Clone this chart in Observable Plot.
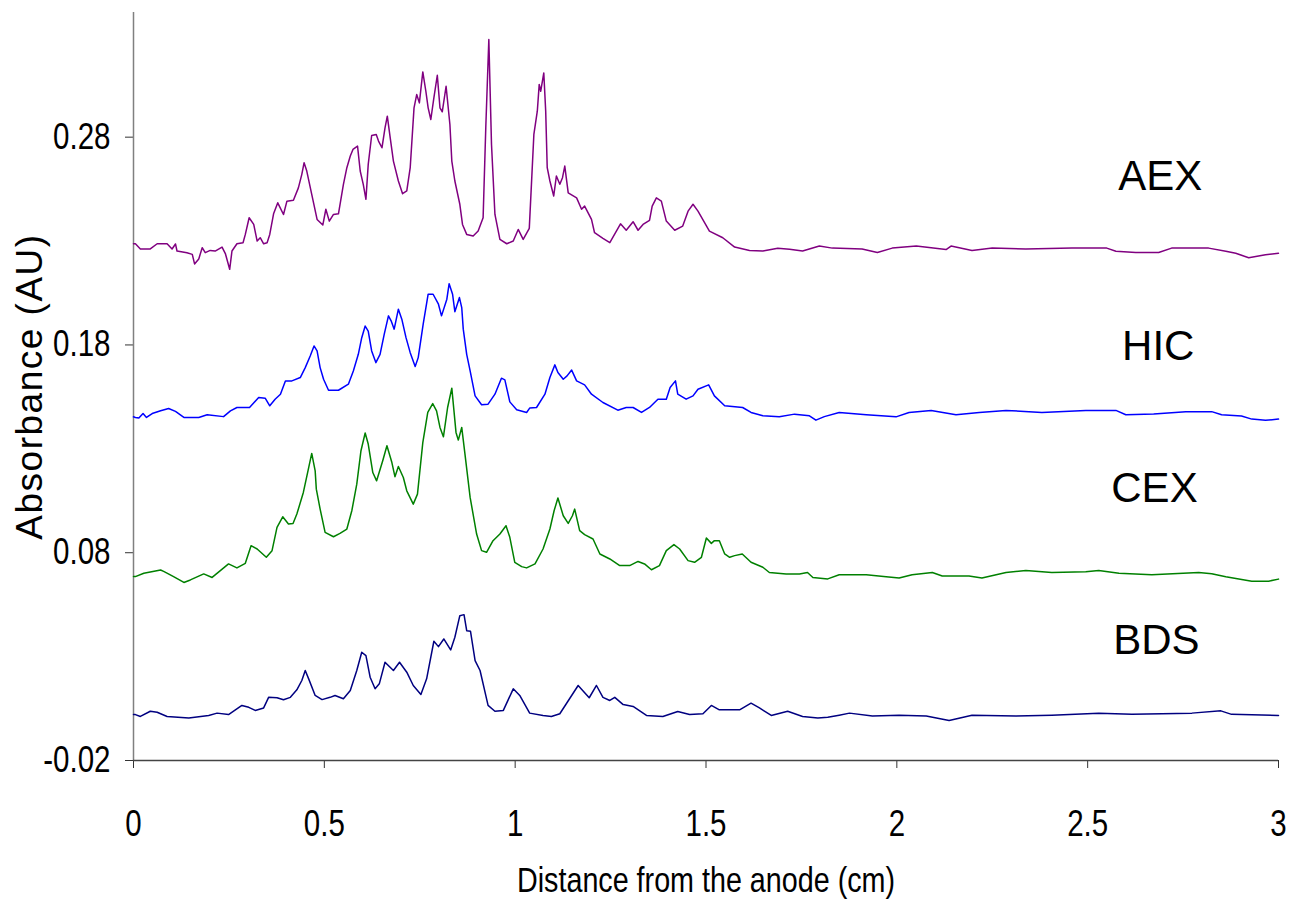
<!DOCTYPE html>
<html><head><meta charset="utf-8">
<script src="https://cdn.jsdelivr.net/npm/d3@7"></script>
<script src="https://cdn.jsdelivr.net/npm/@observablehq/plot@0.6"></script>
<style>html,body{margin:0;padding:0;background:#fff}</style>
</head><body><div id="chart"></div>
<script>
const seriesNames = ["AEX", "HIC", "CEX", "BDS"];
const seriesColors = ["#800080", "#0000ff", "#008000", "#000080"];
const labelX = [2.69, 2.685, 2.675, 2.68];
const labelY = [0.261, 0.179, 0.111, 0.0377];
const xTicks = [0, 0.5, 1, 1.5, 2, 2.5, 3];
const yTicks = [-0.02, 0.08, 0.18, 0.28];
const xTitle = "Distance from the anode (cm)";
const yTitle = "Absorbance (AU)";

const aex = [[0,0.2287],[0.005,0.2287],[0.018,0.2262],[0.044,0.2262],[0.062,0.2287],[0.088,0.2287],[0.101,0.2262],[0.110,0.2286],[0.114,0.2252],[0.140,0.2244],[0.154,0.2236],[0.160,0.2190],[0.171,0.2214],[0.180,0.2268],[0.188,0.2244],[0.201,0.2255],[0.214,0.2252],[0.232,0.2271],[0.241,0.2238],[0.252,0.2164],[0.258,0.2252],[0.271,0.2287],[0.287,0.2292],[0.293,0.2332],[0.303,0.2412],[0.315,0.2380],[0.324,0.2300],[0.332,0.2316],[0.341,0.2287],[0.350,0.2292],[0.357,0.2332],[0.367,0.2431],[0.378,0.2484],[0.393,0.2428],[0.402,0.2492],[0.419,0.2496],[0.432,0.2556],[0.441,0.2621],[0.447,0.2677],[0.454,0.2637],[0.467,0.2525],[0.481,0.2404],[0.496,0.2377],[0.504,0.2453],[0.513,0.2396],[0.524,0.2428],[0.537,0.2431],[0.550,0.2573],[0.559,0.2653],[0.568,0.2709],[0.575,0.2741],[0.587,0.2757],[0.594,0.2637],[0.602,0.2573],[0.609,0.2501],[0.615,0.2669],[0.624,0.2808],[0.636,0.2813],[0.642,0.2781],[0.651,0.2749],[0.659,0.2845],[0.665,0.2901],[0.672,0.2805],[0.681,0.2685],[0.694,0.2589],[0.705,0.2528],[0.716,0.2541],[0.725,0.2653],[0.735,0.2941],[0.742,0.3005],[0.749,0.2965],[0.758,0.3114],[0.766,0.3021],[0.772,0.2941],[0.779,0.2885],[0.787,0.2989],[0.796,0.3098],[0.803,0.2941],[0.809,0.2922],[0.819,0.3045],[0.829,0.2861],[0.834,0.2685],[0.842,0.2589],[0.855,0.2477],[0.862,0.2380],[0.873,0.2332],[0.890,0.2324],[0.903,0.2348],[0.916,0.2412],[0.923,0.2845],[0.931,0.3270],[0.938,0.2765],[0.947,0.2428],[0.960,0.2308],[0.978,0.2287],[0.995,0.2300],[1.008,0.2356],[1.021,0.2308],[1.037,0.2361],[1.049,0.2813],[1.058,0.2925],[1.063,0.3054],[1.067,0.3021],[1.075,0.3109],[1.080,0.2925],[1.084,0.2653],[1.091,0.2589],[1.101,0.2517],[1.108,0.2613],[1.117,0.2573],[1.124,0.2605],[1.130,0.2661],[1.139,0.2532],[1.161,0.2508],[1.174,0.2453],[1.182,0.2468],[1.200,0.2404],[1.208,0.2340],[1.230,0.2313],[1.248,0.2292],[1.276,0.2383],[1.291,0.2352],[1.309,0.2393],[1.322,0.2352],[1.335,0.2380],[1.352,0.2400],[1.359,0.2468],[1.370,0.2508],[1.383,0.2492],[1.396,0.2396],[1.418,0.2352],[1.439,0.2372],[1.453,0.2444],[1.466,0.2477],[1.479,0.2444],[1.509,0.2348],[1.544,0.2316],[1.575,0.2271],[1.614,0.2255],[1.649,0.2252],[1.688,0.2265],[1.719,0.2260],[1.753,0.2252],[1.797,0.2276],[1.831,0.2266],[1.909,0.2262],[1.949,0.2245],[1.988,0.2266],[2.051,0.2276],[2.129,0.2259],[2.142,0.2276],[2.197,0.2255],[2.250,0.2266],[2.338,0.2262],[2.459,0.2266],[2.550,0.2266],[2.574,0.2251],[2.626,0.2245],[2.686,0.2245],[2.720,0.2266],[2.817,0.2266],[2.862,0.2251],[2.888,0.2241],[2.922,0.2220],[2.966,0.2234],[3.000,0.2241]];

const hic = [[0,0.1454],[0.005,0.1451],[0.014,0.1448],[0.025,0.1470],[0.034,0.1451],[0.049,0.1470],[0.071,0.1483],[0.092,0.1494],[0.110,0.1480],[0.132,0.1451],[0.171,0.1451],[0.193,0.1464],[0.236,0.1455],[0.254,0.1483],[0.271,0.1499],[0.304,0.1499],[0.328,0.1547],[0.345,0.1544],[0.357,0.1507],[0.371,0.1539],[0.385,0.1563],[0.398,0.1627],[0.415,0.1627],[0.437,0.1643],[0.450,0.1691],[0.463,0.1747],[0.473,0.1795],[0.481,0.1771],[0.489,0.1691],[0.498,0.1635],[0.511,0.1582],[0.537,0.1582],[0.563,0.1611],[0.576,0.1675],[0.589,0.1755],[0.598,0.1835],[0.607,0.1891],[0.615,0.1867],[0.624,0.1771],[0.635,0.1715],[0.646,0.1755],[0.657,0.1852],[0.668,0.1940],[0.675,0.1916],[0.683,0.1876],[0.694,0.1972],[0.703,0.1924],[0.714,0.1835],[0.725,0.1763],[0.738,0.1696],[0.746,0.1739],[0.759,0.1900],[0.772,0.2044],[0.785,0.2044],[0.799,0.1996],[0.807,0.1940],[0.821,0.2020],[0.827,0.2095],[0.836,0.2044],[0.842,0.1960],[0.854,0.2028],[0.860,0.1980],[0.864,0.1876],[0.873,0.1755],[0.882,0.1675],[0.895,0.1555],[0.912,0.1512],[0.929,0.1515],[0.947,0.1563],[0.964,0.1640],[0.973,0.1632],[0.986,0.1526],[1.004,0.1488],[1.030,0.1475],[1.038,0.1496],[1.056,0.1499],[1.078,0.1563],[1.091,0.1643],[1.104,0.1704],[1.112,0.1667],[1.126,0.1635],[1.136,0.1651],[1.148,0.1679],[1.161,0.1627],[1.182,0.1608],[1.200,0.1563],[1.230,0.1523],[1.269,0.1486],[1.291,0.1499],[1.309,0.1499],[1.331,0.1475],[1.352,0.1499],[1.374,0.1539],[1.396,0.1539],[1.406,0.1595],[1.420,0.1627],[1.426,0.1563],[1.448,0.1539],[1.466,0.1555],[1.479,0.1587],[1.507,0.1608],[1.522,0.1555],[1.549,0.1507],[1.596,0.1499],[1.618,0.1475],[1.649,0.1459],[1.692,0.1454],[1.732,0.1467],[1.771,0.1459],[1.788,0.1438],[1.810,0.1455],[1.849,0.1475],[1.920,0.1464],[1.998,0.1454],[2.032,0.1475],[2.090,0.1485],[2.155,0.1464],[2.216,0.1475],[2.286,0.1485],[2.380,0.1475],[2.495,0.1485],[2.574,0.1485],[2.600,0.1464],[2.673,0.1468],[2.757,0.1479],[2.825,0.1479],[2.851,0.1464],[2.903,0.1458],[2.930,0.1443],[2.966,0.1437],[3.000,0.1443]];

const cex = [[0,0.0685],[0.005,0.0685],[0.027,0.0701],[0.071,0.0717],[0.079,0.0710],[0.105,0.0685],[0.132,0.0657],[0.149,0.0669],[0.184,0.0698],[0.206,0.0681],[0.249,0.0746],[0.271,0.0727],[0.293,0.0749],[0.308,0.0834],[0.324,0.0818],[0.348,0.0778],[0.363,0.0810],[0.376,0.0922],[0.391,0.0973],[0.406,0.0938],[0.418,0.0941],[0.428,0.0986],[0.445,0.1090],[0.459,0.1210],[0.467,0.1278],[0.476,0.1194],[0.479,0.1106],[0.489,0.1010],[0.502,0.0898],[0.524,0.0877],[0.541,0.0893],[0.559,0.0914],[0.572,0.1002],[0.585,0.1130],[0.596,0.1291],[0.607,0.1376],[0.615,0.1323],[0.627,0.1186],[0.637,0.1146],[0.653,0.1243],[0.664,0.1315],[0.677,0.1234],[0.685,0.1166],[0.694,0.1215],[0.707,0.1162],[0.716,0.1098],[0.733,0.1034],[0.744,0.1082],[0.758,0.1330],[0.771,0.1475],[0.784,0.1518],[0.794,0.1483],[0.803,0.1403],[0.812,0.1358],[0.823,0.1499],[0.834,0.1592],[0.845,0.1379],[0.851,0.1342],[0.860,0.1403],[0.868,0.1282],[0.882,0.1066],[0.899,0.0890],[0.912,0.0810],[0.925,0.0802],[0.942,0.0858],[0.960,0.0890],[0.976,0.0930],[0.986,0.0874],[0.999,0.0754],[1.017,0.0733],[1.030,0.0727],[1.052,0.0746],[1.073,0.0818],[1.091,0.0914],[1.102,0.1002],[1.112,0.1063],[1.126,0.0978],[1.139,0.0941],[1.150,0.0978],[1.156,0.1010],[1.169,0.0906],[1.182,0.0887],[1.204,0.0866],[1.222,0.0794],[1.248,0.0770],[1.274,0.0738],[1.300,0.0738],[1.322,0.0758],[1.339,0.0746],[1.357,0.0718],[1.378,0.0738],[1.396,0.0810],[1.416,0.0839],[1.431,0.0818],[1.453,0.0762],[1.470,0.0754],[1.488,0.0778],[1.501,0.0871],[1.514,0.0845],[1.522,0.0858],[1.535,0.0858],[1.549,0.0794],[1.562,0.0778],[1.575,0.0786],[1.595,0.0794],[1.618,0.0754],[1.649,0.0730],[1.666,0.0705],[1.710,0.0698],[1.745,0.0698],[1.766,0.0705],[1.780,0.0681],[1.819,0.0674],[1.849,0.0694],[1.920,0.0694],[1.972,0.0684],[2.006,0.0678],[2.040,0.0694],[2.093,0.0705],[2.119,0.0688],[2.189,0.0688],[2.223,0.0678],[2.286,0.0705],[2.338,0.0715],[2.406,0.0705],[2.495,0.0709],[2.529,0.0715],[2.582,0.0701],[2.668,0.0694],[2.791,0.0705],[2.825,0.0699],[2.862,0.0684],[2.930,0.0663],[2.974,0.0663],[3.000,0.0673]];

const bds = [[0,0.0021],[0.005,0.0021],[0.018,0.0012],[0.044,0.0037],[0.062,0.0032],[0.088,0.0012],[0.145,0.0005],[0.197,0.0017],[0.219,0.0028],[0.249,0.0021],[0.284,0.0065],[0.302,0.0056],[0.319,0.0041],[0.341,0.0053],[0.354,0.0104],[0.376,0.0102],[0.393,0.0092],[0.411,0.0104],[0.428,0.0140],[0.441,0.0185],[0.450,0.0233],[0.459,0.0193],[0.476,0.0113],[0.494,0.0093],[0.515,0.0104],[0.528,0.0113],[0.550,0.0097],[0.568,0.0137],[0.585,0.0233],[0.598,0.0321],[0.609,0.0305],[0.620,0.0201],[0.633,0.0145],[0.644,0.0169],[0.659,0.0273],[0.681,0.0233],[0.697,0.0273],[0.716,0.0225],[0.733,0.0161],[0.753,0.0118],[0.768,0.0193],[0.787,0.0374],[0.799,0.0348],[0.813,0.0385],[0.831,0.0332],[0.842,0.0393],[0.855,0.0497],[0.866,0.0502],[0.873,0.0425],[0.883,0.0422],[0.895,0.0281],[0.908,0.0233],[0.929,0.0065],[0.947,0.0037],[0.969,0.0041],[0.995,0.0145],[1.012,0.0113],[1.038,0.0028],[1.073,0.0017],[1.095,0.0012],[1.117,0.0025],[1.134,0.0073],[1.165,0.0161],[1.194,0.0102],[1.213,0.0161],[1.230,0.0104],[1.248,0.0089],[1.261,0.0104],[1.283,0.0069],[1.309,0.0060],[1.344,0.0017],[1.387,0.0012],[1.426,0.0036],[1.457,0.0021],[1.492,0.0025],[1.514,0.0065],[1.535,0.0044],[1.588,0.0044],[1.618,0.0076],[1.640,0.0053],[1.671,0.0017],[1.714,0.0037],[1.753,0.0012],[1.793,0.0005],[1.819,0.0008],[1.849,0.0018],[1.876,0.0028],[1.936,0.0014],[2.006,0.0018],[2.077,0.0014],[2.137,-0.0007],[2.197,0.0018],[2.312,0.0014],[2.406,0.0018],[2.529,0.0028],[2.616,0.0022],[2.773,0.0028],[2.849,0.0039],[2.877,0.0022],[3.000,0.0017]];

const seriesData = [aex, hic, cex, bds];
const rows = [];
seriesData.forEach((s, i) => s.forEach(([x, y]) => rows.push({series: seriesNames[i], x, y})));
const labels = seriesNames.map((n, i) => ({n, x: labelX[i], y: labelY[i]}));

const regular = "'Liberation Sans',Arial,sans-serif";

const chart = Plot.plot({
  width: 1289,
  height: 903,
  marginLeft: 133,
  marginRight: 11,
  marginTop: 12,
  marginBottom: 143,
  style: {fontFamily: regular, fontSize: "36px", color: "#000", background: "#fff"},
  x: {domain: [0, 3]},
  y: {domain: [-0.02, 0.34]},
  color: {domain: seriesNames, range: seriesColors},
  marks: [
    Plot.axisX({ticks: xTicks, tickSize: 8, tickPadding: 42, tickFormat: d => String(d), label: null, fontSize: 36, stroke: "#333"}),
    Plot.axisY({ticks: yTicks, tickSize: 8, tickPadding: 15, tickFormat: d => d.toFixed(2), label: null, fontSize: 36, stroke: "#333"}),
    Plot.ruleX([0], {stroke: "#808080", strokeWidth: 1.5}),
    Plot.ruleY([-0.02], {stroke: "#444", strokeWidth: 1.5}),
    Plot.line(rows, {x: "x", y: "y", z: "series", stroke: "series", strokeWidth: 1.5}),
    Plot.text(labels, {x: "x", y: "y", text: "n", fontSize: 42, fill: "#000"}),
    Plot.text([xTitle], {frameAnchor: "bottom", dy: 120, lineAnchor: "middle", textAnchor: "middle", fontSize: 35, fill: "#000"}),
    Plot.text([yTitle], {frameAnchor: "left", dx: -103, rotate: -90, textAnchor: "middle", lineAnchor: "middle", fontSize: 37, fill: "#000"})
  ]
});
document.getElementById("chart").appendChild(chart);
const svg = d3.select(chart);
// narrow (condensed) look for tick labels and x title, as in the reference
svg.selectAll("g[aria-label$='tick label'] text").each(function() {
  const len = this.getComputedTextLength();
  this.setAttribute("textLength", (len * 0.82).toFixed(1));
  this.setAttribute("lengthAdjust", "spacingAndGlyphs");
});
svg.selectAll("text").filter(function() { return this.textContent === xTitle; }).each(function() {
  const len = this.getComputedTextLength();
  this.setAttribute("textLength", (len * 0.82).toFixed(1));
  this.setAttribute("lengthAdjust", "spacingAndGlyphs");
});
svg.selectAll("text").filter(function() { return this.textContent === yTitle; }).style("letter-spacing", "1.5px");
</script>
</body></html>
